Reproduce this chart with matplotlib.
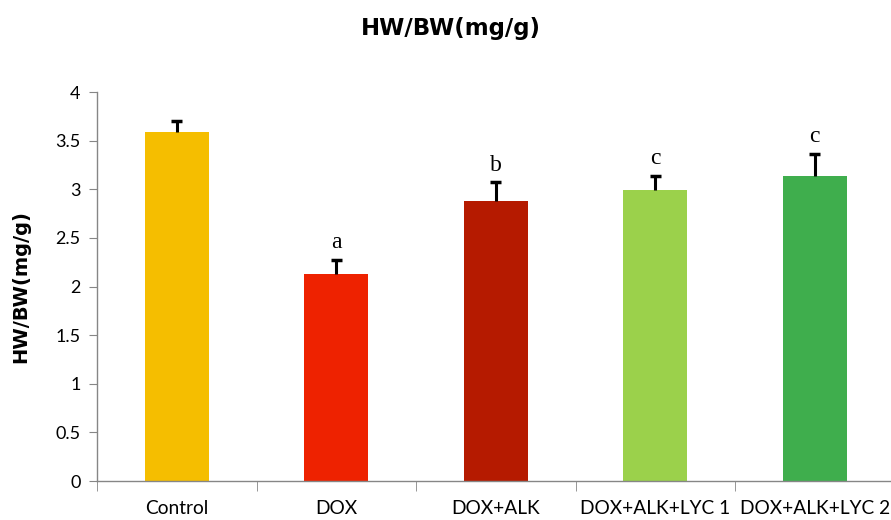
import numpy as np
import matplotlib.pyplot as plt

groups = ['Control', 'DOX', 'DOX+ALK', 'DOX+ALK+LYC 1', 'DOX+ALK+LYC 2']
hw_bw = [3.59, 2.13, 2.88, 2.99, 3.14]
sem = [0.11, 0.14, 0.19, 0.15, 0.22]
letters = ['', 'a', 'b', 'c', 'c']
colors = ['#F5BE00', '#EE2200', '#B51A00', '#9BD14B', '#3FAE4D']

fig = plt.figure(figsize=(8.91, 5.20), dpi=100)
ax = fig.add_axes([0.109, 0.075, 0.895, 0.748])

x = np.arange(len(groups))
tops = np.array(hw_bw) + np.array(sem)
ax.bar(x, hw_bw, width=0.4, color=colors, zorder=2)
# upper error bars only, cap on top
ax.vlines(x, hw_bw, tops, color='black', lw=2.2, zorder=3)
ax.hlines(tops, x - 0.035, x + 0.035, color='black', lw=2.5, zorder=3)

for xi, t, txt in zip(x, tops, letters):
    if txt:
        ax.text(xi, t + 0.07, txt, ha='center', va='bottom',
                family='Liberation Serif', fontsize=17)

ax.set_xlim(-0.5, len(groups) - 0.5)
ax.set_ylim(0, 4)
ax.set_yticks(np.arange(0, 4.01, 0.5))
ax.set_yticklabels(['0', '0.5', '1', '1.5', '2', '2.5', '3', '3.5', '4'])
ax.set_xticks(x)
ax.set_xticklabels(groups)
ax.set_xticks(np.arange(-0.5, len(groups), 1), minor=True)
ax.tick_params(axis='x', which='major', length=0, pad=14, labelsize=13.8)
ax.tick_params(axis='x', which='minor', length=7, color='#868686', direction='out')
ax.tick_params(axis='y', length=6, color='#868686', labelsize=13, pad=6)
for lab in ax.get_xticklabels() + ax.get_yticklabels():
    lab.set_family('Lato')

for s in ['top', 'right']:
    ax.spines[s].set_visible(False)
for s in ['left', 'bottom']:
    ax.spines[s].set_color('#868686')
    ax.spines[s].set_linewidth(1)

ax.set_ylabel('HW/BW(mg/g)', fontsize=14, fontweight='bold')
ax.yaxis.set_label_coords(-0.084, 0.5)
fig.text(0.506, 0.945, 'HW/BW(mg/g)', ha='center', va='center',
         fontsize=16.5, fontweight='bold')

fig.savefig('out.png', dpi=100)
